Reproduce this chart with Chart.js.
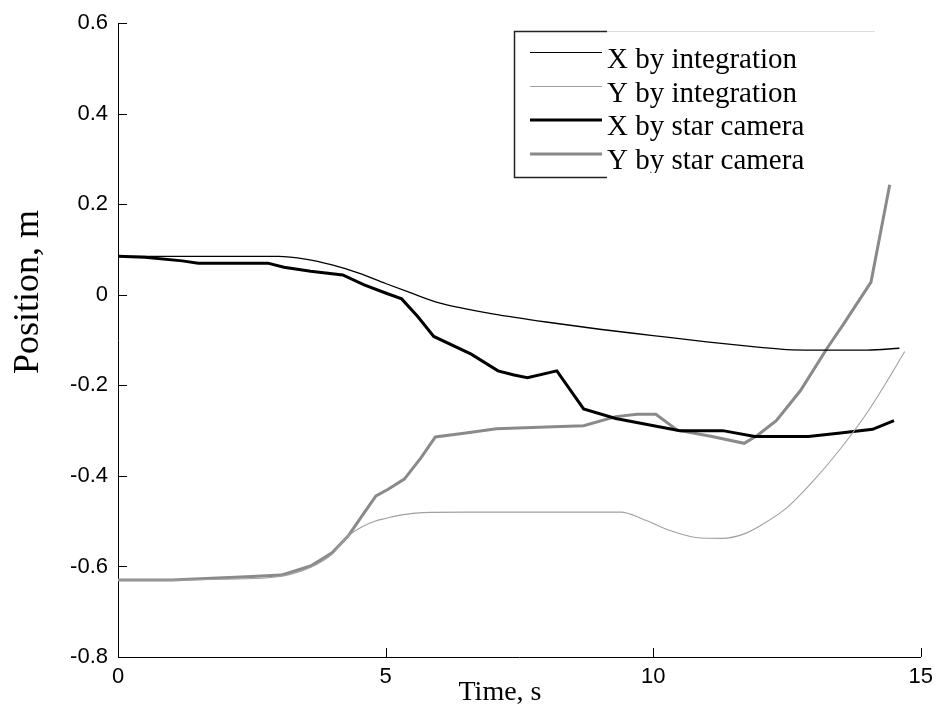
<!DOCTYPE html>
<html>
<head>
<meta charset="utf-8">
<script src="https://cdn.jsdelivr.net/npm/chart.js@4.4.1/dist/chart.umd.min.js"></script>
<style>
  html, body { margin: 0; padding: 0; background: #fff; }
</style>
</head>
<body>
<canvas id="chart" width="940" height="707"></canvas>
<script>
// series (time in s, position in m)
const tXInt = [0, 1, 2, 3, 3.5, 4, 4.5, 5, 5.5, 6, 6.5, 7, 8, 9, 10, 11, 12, 12.5, 13, 14, 14.6];
const xInt  = [0.085, 0.085, 0.085, 0.085, 0.079, 0.066, 0.048, 0.025, 0.003, -0.018, -0.031, -0.042, -0.06, -0.076, -0.09, -0.104, -0.116, -0.121, -0.122, -0.122, -0.118];

const tYInt = [0, 1, 2, 2.8, 3.2, 3.6, 4.0, 4.3, 4.6, 4.8, 5.0, 5.3, 5.7, 6.5, 8, 9.4, 9.8, 10.3, 10.8, 11.3, 11.7, 12.0, 12.5, 13.0, 13.5, 14.0, 14.4, 14.7];
const yInt  = [-0.63, -0.63, -0.628, -0.625, -0.618, -0.602, -0.573, -0.533, -0.51, -0.5, -0.494, -0.486, -0.481, -0.48, -0.48, -0.48, -0.495, -0.52, -0.536, -0.538, -0.528, -0.51, -0.47, -0.41, -0.34, -0.26, -0.185, -0.125];

const tXCam = [0, 0.5, 1.2, 1.5, 2.8, 3.1, 3.6, 4.2, 4.6, 5.0, 5.3, 5.6, 5.9, 6.6, 7.1, 7.4, 7.65, 8.2, 8.7, 9.3, 10.5, 11.3, 11.9, 12.9, 13.5, 14.1, 14.5];
const xCam  = [0.085, 0.083, 0.075, 0.07, 0.07, 0.061, 0.052, 0.044, 0.022, 0.004, -0.009, -0.048, -0.092, -0.131, -0.168, -0.177, -0.183, -0.168, -0.252, -0.273, -0.3, -0.3, -0.313, -0.313, -0.305, -0.297, -0.278];

const tYCam = [0, 1, 2.4, 3.05, 3.6, 4.0, 4.3, 4.55, 4.82, 5.04, 5.35, 5.66, 5.93, 6.5, 7.07, 8.0, 8.7, 9.3, 9.7, 10.05, 10.45, 11.1, 11.7, 11.95, 12.3, 12.75, 13.25, 13.55, 14.07, 14.42];
const yCam  = [-0.63, -0.63, -0.623, -0.619, -0.599, -0.57, -0.533, -0.49, -0.444, -0.43, -0.407, -0.36, -0.314, -0.305, -0.296, -0.292, -0.289, -0.269, -0.264, -0.264, -0.299, -0.313, -0.328, -0.31, -0.278, -0.212, -0.118, -0.066, 0.028, 0.243];

const seriesLabels = ["X by integration", "Y by integration", "X by star camera", "Y by star camera"];
const xTicks = [0, 5, 10, 15];
const yTicks = [-0.8, -0.6, -0.4, -0.2, 0, 0.2, 0.4, 0.6];

const tickFont = { family: "'Liberation Sans', Arial, sans-serif", size: 22 };
const serif = "'Liberation Serif', 'Times New Roman', serif";

function toPoints(ts, vs) {
    return ts.map((t, i) => ({ x: t, y: vs[i] }));
}

function fmt(v) {
    return String(Math.round(v * 10) / 10);
}

// inward tick marks, axis titles and the matlab-like legend box
const decor = {
    id: "decor",
    afterDraw(chart) {
        const ctx = chart.ctx;
        const { left, bottom } = chart.chartArea;
        const sx = chart.scales.x, sy = chart.scales.y;

        ctx.save();
        ctx.strokeStyle = "#000";
        ctx.lineWidth = 1;
        ctx.beginPath();
        xTicks.forEach(v => {
            const px = Math.round(sx.getPixelForValue(v)) + 0.5;
            ctx.moveTo(px, bottom);
            ctx.lineTo(px, bottom - 9);
        });
        yTicks.forEach(v => {
            const py = Math.round(sy.getPixelForValue(v)) + 0.5;
            ctx.moveTo(left, py);
            ctx.lineTo(left + 9, py);
        });
        ctx.stroke();

        // axis titles
        ctx.fillStyle = "#000";
        ctx.font = "28px " + serif;
        ctx.textAlign = "center";
        ctx.textBaseline = "alphabetic";
        ctx.fillText("Time, s", 500, 700);
        ctx.save();
        ctx.translate(38, 292);
        ctx.rotate(-Math.PI / 2);
        ctx.font = "36px " + serif;
        ctx.fillText("Position, m", 0, 0);
        ctx.restore();

        // legend
        const bx = 514.5, by = 31.5, bb = 177.5;
        ctx.fillStyle = "#fff";
        ctx.fillRect(bx, by, 875 - bx, bb - by);
        ctx.strokeStyle = "#dcdcdc";
        ctx.lineWidth = 1;
        ctx.beginPath();
        ctx.moveTo(607, by);
        ctx.lineTo(875, by);
        ctx.stroke();
        ctx.strokeStyle = "#222";
        ctx.lineWidth = 1.5;
        ctx.beginPath();
        ctx.moveTo(607, by);
        ctx.lineTo(bx, by);
        ctx.lineTo(bx, bb);
        ctx.lineTo(607, bb);
        ctx.stroke();

        const rows = [52.5, 86.5, 120, 154];
        ctx.save();
        ctx.beginPath();
        ctx.rect(bx, by, 400, 173 - by);
        ctx.clip();
        chart.data.datasets.forEach((ds, i) => {
            ctx.strokeStyle = ds.borderColor;
            ctx.lineWidth = ds.borderWidth < 2 ? 1 : ds.borderWidth;
            ctx.beginPath();
            ctx.moveTo(530, rows[i]);
            ctx.lineTo(602, rows[i]);
            ctx.stroke();
            ctx.fillStyle = "#000";
            ctx.font = "29px " + serif;
            ctx.textAlign = "left";
            ctx.fillText(ds.label, 607, Math.round(rows[i]) + 15);
        });
        ctx.restore();
        ctx.restore();
    }
};

const ctx = document.getElementById("chart").getContext("2d");
new Chart(ctx, {
    type: "line",
    data: {
        datasets: [
            { label: seriesLabels[0], data: toPoints(tXInt, xInt), borderColor: "#000", borderWidth: 1.3, cubicInterpolationMode: "monotone" },
            { label: seriesLabels[1], data: toPoints(tYInt, yInt), borderColor: "#a0a0a0", borderWidth: 1.1, cubicInterpolationMode: "monotone" },
            { label: seriesLabels[2], data: toPoints(tXCam, xCam), borderColor: "#000", borderWidth: 3 },
            { label: seriesLabels[3], data: toPoints(tYCam, yCam), borderColor: "#8a8a8a", borderWidth: 3 }
        ]
    },
    options: {
        responsive: false,
        animation: false,
        devicePixelRatio: 1,
        layout: { padding: { top: 20, right: 13 } },
        elements: { point: { radius: 0 }, line: { tension: 0, fill: false } },
        plugins: { legend: { display: false }, tooltip: { enabled: false } },
        scales: {
            x: {
                type: "linear",
                min: 0,
                max: 15,
                afterBuildTicks: s => { s.ticks = xTicks.map(v => ({ value: v })); },
                afterFit: s => { s.height = 50; },
                ticks: { font: tickFont, color: "#000", padding: 7, maxRotation: 0, autoSkip: false, callback: v => fmt(v) },
                grid: { display: false, drawTicks: false },
                border: { display: true, color: "#000", width: 1 }
            },
            y: {
                type: "linear",
                min: -0.8,
                max: 0.6,
                afterBuildTicks: s => { s.ticks = yTicks.map(v => ({ value: v })); },
                afterFit: s => { s.width = 118; },
                ticks: { font: tickFont, color: "#000", padding: 10, autoSkip: false, callback: v => fmt(v) },
                grid: { display: false, drawTicks: false },
                border: { display: true, color: "#000", width: 1 }
            }
        }
    },
    plugins: [decor]
});
</script>
</body>
</html>
